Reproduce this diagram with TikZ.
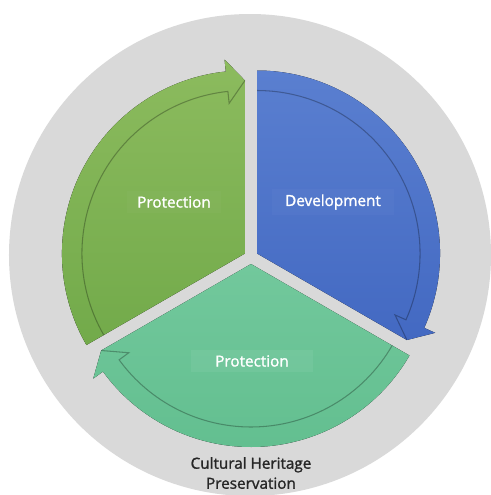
\documentclass[tikz,border=0pt]{standalone}
\usepackage{fontspec}
\setmainfont{Open Sans}
\newfontfamily\labelfont[FakeBold=1.4]{Open Sans}

\definecolor{ringgray}{HTML}{D9D9D9}
\definecolor{leafgreen}{HTML}{72AA4A}
\definecolor{leafgreenlight}{HTML}{8CBB5E}
\definecolor{devblue}{HTML}{4369C2}
\definecolor{devbluelight}{HTML}{5A7FD0}
\definecolor{mint}{HTML}{63BF90}
\definecolor{mintlight}{HTML}{72C89C}

\begin{document}
\begin{tikzpicture}[x=0.02cm, y=0.02cm,
    bandline/.style={draw=black, draw opacity=0.28, line width=0.6pt},
    label/.style={text=white, font=\labelfont\fontsize{8.7}{10}\selectfont, fill=white, fill opacity=0.025, text opacity=1, inner sep=3pt}]
        \useasboundingbox (-251,-238) rectangle (240,257);
        \fill[ringgray] (-1,2) circle[radius=241];
        % Protection (upper left), arrow runs up to the top
        \begin{scope}[shift={(150:7)}]
            \fill[top color=leafgreenlight, bottom color=leafgreen] (0,0) -- (210:183) arc[start angle=210, end angle=96, radius=183] -- (96:195) -- (90:173) -- cycle;
            \draw[bandline] (210:163) arc[start angle=210, end angle=96, radius=163] -- (96:151) -- (90:173);
        \end{scope}
        % Development (right), arrow runs down to the right
        \begin{scope}[shift={(30:7)}]
            \fill[top color=devbluelight, bottom color=devblue] (0,0) -- (90:183) arc[start angle=90, end angle=-24, radius=183] -- (-24:195) -- (-30:173) -- cycle;
            \draw[bandline] (90:163) arc[start angle=90, end angle=-24, radius=163] -- (-24:151) -- (-30:173);
        \end{scope}
        % Protection (bottom), arrow runs round to the left
        \begin{scope}[shift={(270:7)}]
            \fill[top color=mintlight, bottom color=mint] (0,0) -- (-30:183) arc[start angle=-30, end angle=-144, radius=183] -- (-144:195) -- (-150:173) -- cycle;
            \draw[bandline] (-30:163) arc[start angle=-30, end angle=-144, radius=163] -- (-144:151) -- (-150:173);
        \end{scope}
        \node[label, minimum width=1.9cm] (protectleft) at (-77,55) {Protection};
        \node[label, minimum width=2.45cm] (develop) at (82,55) {Development};
        \node[label, minimum width=2.45cm, fill opacity=0.06] (protectbottom) at (1,-104) {Protection};
        \node[align=center, text=black!85, font=\labelfont\fontsize{8.7}{11.4}\selectfont] (heritage) at (0,-216) {Cultural Heritage\\Preservation};
    \end{tikzpicture}
\end{document}
